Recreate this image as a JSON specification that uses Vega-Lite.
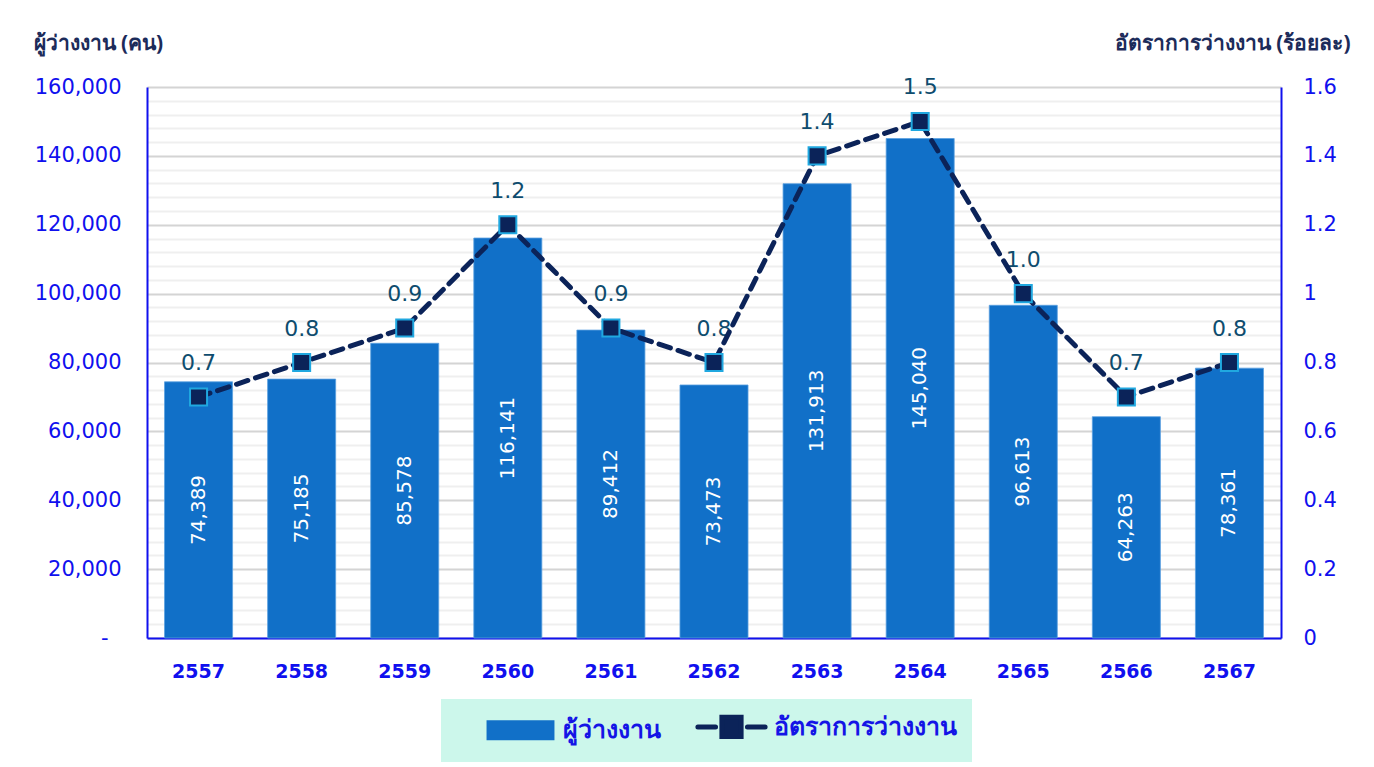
{
  "$schema": "https://vega.github.io/schema/vega-lite/v6.json",
  "width": 1134,
  "height": 551,
  "autosize": {"type": "none"},
  "padding": {"left": 147, "top": 87, "right": 93, "bottom": 129},
  "background": "#ffffff",
  "config": {
    "view": {"stroke": null},
    "font": "DejaVu Sans",
    "legend": {
      "title": null,
      "orient": "none",
      "legendX": 294,
      "legendY": 612,
      "direction": "horizontal",
      "fillColor": "#ccf7eb",
      "padding": 15,
      "columnPadding": 6,
      "labelFontSize": 25,
      "labelColor": "#1414e6",
      "labelFont": "Noto Sans",
      "labelFontWeight": "bold",
      "labelLimit": 400,
      "symbolSize": 576,
      "symbolOffset": 52,
      "labelOffset": 30
    }
  },
  "data": {
    "values": [
      {"year": "2557", "unemployed": 74389, "rate": 0.7},
      {"year": "2558", "unemployed": 75185, "rate": 0.8},
      {"year": "2559", "unemployed": 85578, "rate": 0.9},
      {"year": "2560", "unemployed": 116141, "rate": 1.2},
      {"year": "2561", "unemployed": 89412, "rate": 0.9},
      {"year": "2562", "unemployed": 73473, "rate": 0.8},
      {"year": "2563", "unemployed": 131913, "rate": 1.4},
      {"year": "2564", "unemployed": 145040, "rate": 1.5},
      {"year": "2565", "unemployed": 96613, "rate": 1.0},
      {"year": "2566", "unemployed": 64263, "rate": 0.7},
      {"year": "2567", "unemployed": 78361, "rate": 0.8}
    ]
  },
  "encoding": {
    "x": {
      "field": "year",
      "type": "ordinal",
      "scale": {"paddingInner": 0.34, "paddingOuter": 0.17},
      "axis": {
        "title": null,
        "labelAngle": 0,
        "labelFont": "DejaVu Sans",
        "labelFontWeight": "bold",
        "labelFontSize": 19,
        "labelColor": "#1010ee",
        "labelPadding": 24,
        "ticks": false,
        "domainColor": "#1010ee",
        "domainWidth": 2,
        "grid": false
      }
    }
  },
  "layer": [
    {
      "mark": {"type": "bar", "color": "#1170c8", "stroke": "#5aa0e0", "strokeWidth": 0.8},
      "encoding": {
        "y": {
          "field": "unemployed",
          "type": "quantitative",
          "scale": {"domain": [0, 160000], "nice": false},
          "axis": {
            "orient": "left",
            "title": "ผู้ว่างงาน (คน)",
            "titleAngle": 0,
            "titleAlign": "left",
            "titleBaseline": "middle",
            "titleX": -114,
            "titleY": -44,
            "titleFont": "Noto Sans",
            "titleFontSize": 21,
            "titleFontWeight": "bold",
            "titleColor": "#1c2b5a",
            "values": [0,4000,8000,12000,16000,20000,24000,28000,32000,36000,40000,44000,48000,52000,56000,60000,64000,68000,72000,76000,80000,84000,88000,92000,96000,100000,104000,108000,112000,116000,120000,124000,128000,132000,136000,140000,144000,148000,152000,156000,160000],
            "labelExpr": "datum.value % 20000 !== 0 ? '' : (datum.value === 0 ? '-' : format(datum.value, ','))",
            "labelFont": "DejaVu Sans",
            "labelFontSize": 21,
            "labelColor": "#1010ee",
            "labelPadding": {"condition": {"test": "datum.value === 0", "value": 39}, "value": 26},
            "ticks": false,
            "domainColor": "#1010ee",
            "domainWidth": 2,
            "grid": true,
            "gridColor": {"condition": {"test": "datum.value % 20000 === 0", "value": "#d4d4d4"}, "value": "#efefef"},
            "gridWidth": 2
          }
        },
        "color": {
          "datum": "ผู้ว่างงาน",
          "type": "nominal",
          "scale": {"domain": ["ผู้ว่างงาน", "อัตราการว่างงาน"], "range": ["#1170c8", "#0b2359"]},
          "legend": {
            "encode": {
              "symbols": {
                "update": {
                  "shape": {"signal": "datum.value === 'ผู้ว่างงาน' ? 'M-2.83,-0.83H2.83V0.83H-2.83Z' : 'M-2.8,0H-1.33M1.33,0H2.8M-0.8,-0.8H0.8V0.8H-0.8Z'"},
                  "strokeWidth": {"signal": "datum.value === 'ผู้ว่างงาน' ? 0 : 5"},
                  "fill": {"scale": "color", "field": "value"},
                  "stroke": {"scale": "color", "field": "value"},
                  "strokeCap": {"value": "round"},
                  "opacity": {"value": 1}
                }
              }
            }
          }
        }
      }
    },
    {
      "mark": {"type": "text", "angle": 270, "align": "center", "baseline": "middle", "color": "#ffffff", "font": "DejaVu Sans", "fontSize": 20},
      "encoding": {
        "y": {"field": "unemployed", "type": "quantitative", "scale": {"domain": [0, 320000], "nice": false}, "axis": null},
        "text": {"field": "unemployed", "type": "quantitative", "format": ","}
      }
    },
    {
      "mark": {"type": "text", "align": "center", "baseline": "middle", "dy": -34, "color": "#0e4c6e", "font": "DejaVu Sans", "fontSize": 22},
      "encoding": {
        "y": {"field": "rate", "type": "quantitative", "scale": {"domain": [0, 1.6], "nice": false}, "axis": null},
        "text": {"field": "rate", "type": "quantitative", "format": ".1f"}
      }
    },
    {
      "mark": {"type": "line", "strokeWidth": 5, "strokeDash": [12, 8], "strokeCap": "round"},
      "encoding": {
        "y": {
          "field": "rate",
          "type": "quantitative",
          "scale": {"domain": [0, 1.6], "nice": false},
          "axis": {
            "orient": "right",
            "title": "อัตราการว่างงาน (ร้อยละ)",
            "titleAngle": 0,
            "titleAlign": "right",
            "titleBaseline": "middle",
            "titleX": 69,
            "titleY": -44,
            "titleFont": "Noto Sans",
            "titleFontSize": 21,
            "titleFontWeight": "bold",
            "titleColor": "#1c2b5a",
            "values": [0, 0.2, 0.4, 0.6, 0.8, 1, 1.2, 1.4, 1.6],
            "labelExpr": "format(datum.value, '~g')",
            "labelFont": "DejaVu Sans",
            "labelFontSize": 21,
            "labelColor": "#1010ee",
            "labelPadding": 22,
            "ticks": false,
            "domainColor": "#1010ee",
            "domainWidth": 2,
            "grid": false
          }
        },
        "color": {
          "datum": "อัตราการว่างงาน",
          "type": "nominal",
          "legend": {
            "encode": {
              "symbols": {
                "update": {
                  "shape": {"signal": "datum.value === 'ผู้ว่างงาน' ? 'M-2.83,-0.83H2.83V0.83H-2.83Z' : 'M-2.8,0H-1.33M1.33,0H2.8M-0.8,-0.8H0.8V0.8H-0.8Z'"},
                  "strokeWidth": {"signal": "datum.value === 'ผู้ว่างงาน' ? 0 : 5"},
                  "fill": {"scale": "color", "field": "value"},
                  "stroke": {"scale": "color", "field": "value"},
                  "strokeCap": {"value": "round"},
                  "opacity": {"value": 1}
                }
              }
            }
          }
        }
      }
    },
    {
      "mark": {"type": "point", "shape": "square", "filled": true, "size": 290, "fill": "#0b2359", "stroke": "#20a8e0", "strokeWidth": 2, "opacity": 1},
      "encoding": {
        "y": {"field": "rate", "type": "quantitative", "scale": {"domain": [0, 1.6], "nice": false}, "axis": null}
      }
    }
  ],
  "resolve": {"scale": {"y": "independent"}}
}
